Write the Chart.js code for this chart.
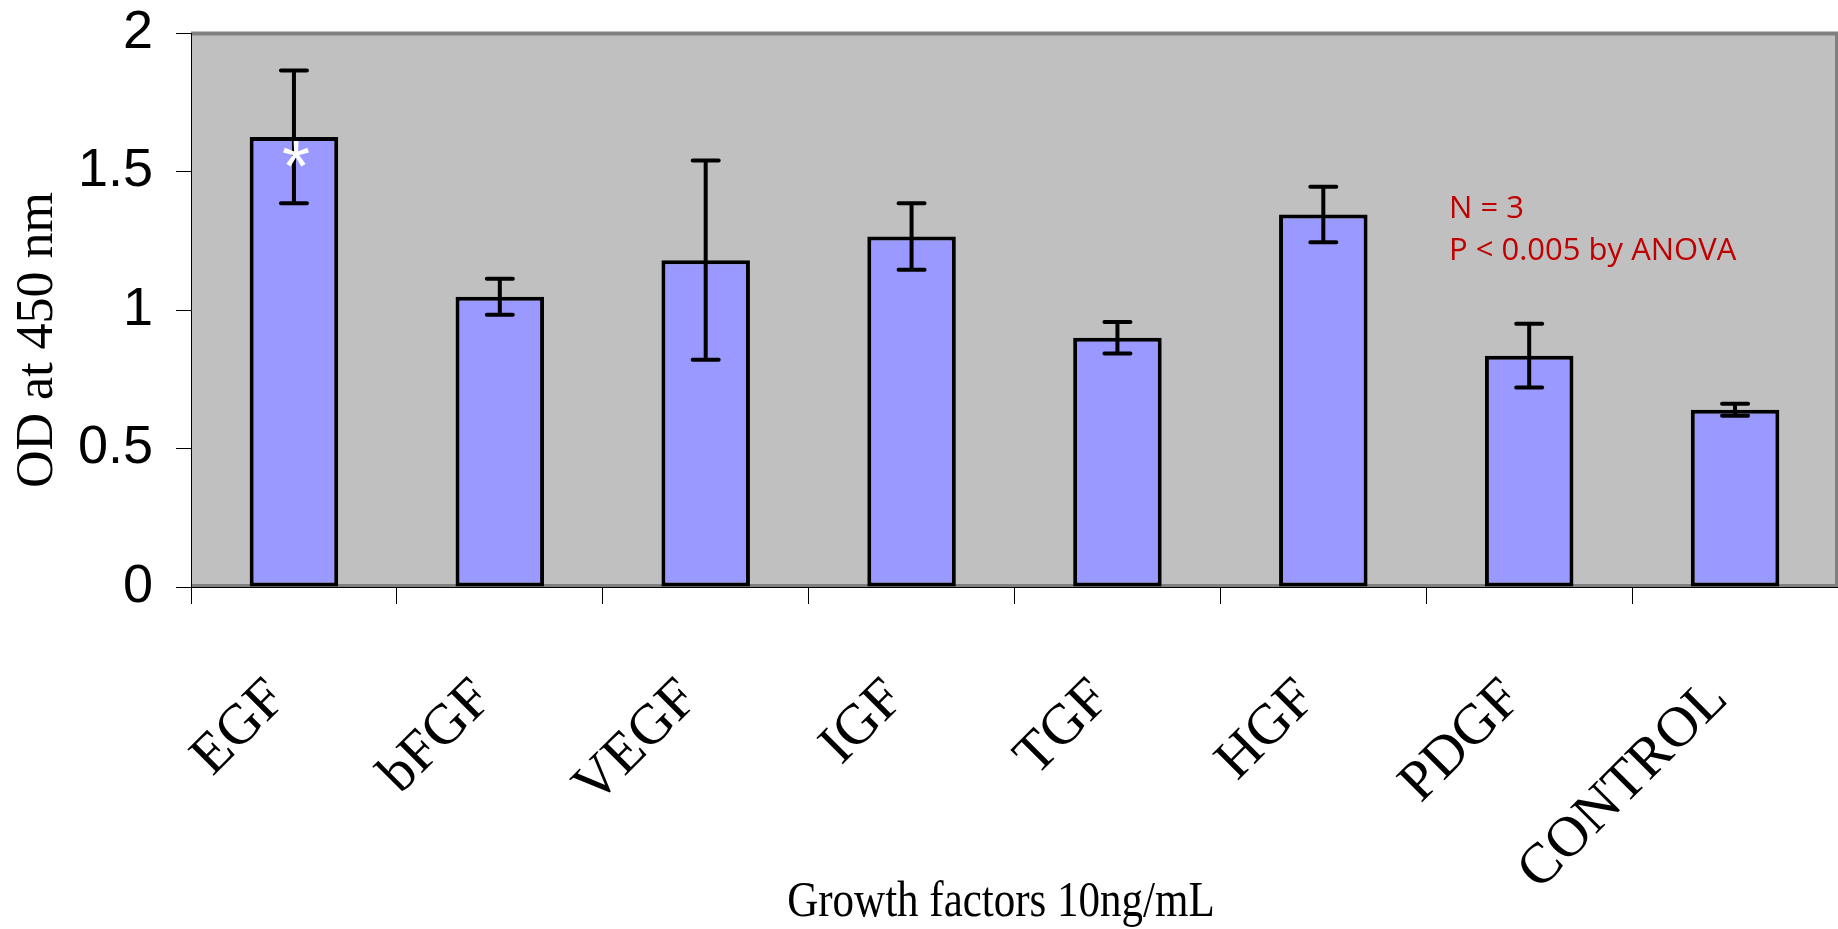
<!DOCTYPE html>
<html>
<head>
<meta charset="utf-8">
<script src="https://cdn.jsdelivr.net/npm/chart.js@4.4.1/dist/chart.umd.min.js"></script>
<style>
  html, body { margin: 0; padding: 0; background: #fff; }
  #wrap { width: 1838px; height: 929px; position: relative; }
</style>
</head>
<body>
<div id="wrap"><canvas id="odChart"></canvas></div>
<script>
// growth factor assay, OD at 450 nm (mean and error)
const factors = ["EGF", "bFGF", "VEGF", "IGF", "TGF", "HGF", "PDGF", "CONTROL"];
const odMeans = [1.625, 1.048, 1.18, 1.265, 0.90, 1.345, 0.835, 0.64];
const odErrors = [0.24, 0.065, 0.36, 0.12, 0.057, 0.10, 0.115, 0.022];
const yTicks = [0, 0.5, 1, 1.5, 2];
const noteLines = ["N = 3", "P < 0.005 by ANOVA"];

// grey plot area with its darker frame
const plotFrame = {
    id: "plotFrame",
    beforeDraw(chart) {
        const { ctx, chartArea: a } = chart;
        ctx.save();
        ctx.fillStyle = "#c0c0c0";
        ctx.fillRect(a.left, a.top, a.right - a.left, a.bottom - a.top);
        ctx.strokeStyle = "#808080";
        ctx.lineWidth = 4;
        ctx.beginPath();
        ctx.moveTo(a.left, a.top + 0.5);
        ctx.lineTo(a.right, a.top + 0.5);
        ctx.stroke();
        ctx.lineWidth = 3;
        ctx.beginPath();
        ctx.moveTo(a.right - 1.5, a.top);
        ctx.lineTo(a.right - 1.5, a.bottom);
        ctx.stroke();
        ctx.beginPath();
        ctx.moveTo(a.left, a.bottom - 1.5);
        ctx.lineTo(a.right, a.bottom - 1.5);
        ctx.stroke();
        ctx.restore();
    }
};

// error bars, significance star, notes and axis titles
const extras = {
    id: "extras",
    afterDatasetsDraw(chart) {
        const { ctx, chartArea: a } = chart;
        const y = chart.scales.y;
        const bars = chart.getDatasetMeta(0).data;
        ctx.save();
        ctx.strokeStyle = "#000";
        ctx.lineWidth = 4;
        ctx.lineCap = "round";
        bars.forEach((bar, i) => {
            const hi = y.getPixelForValue(odMeans[i] + odErrors[i]);
            const lo = y.getPixelForValue(odMeans[i] - odErrors[i]);
            ctx.beginPath();
            ctx.moveTo(bar.x, hi);
            ctx.lineTo(bar.x, lo);
            ctx.moveTo(bar.x - 13, hi);
            ctx.lineTo(bar.x + 13, hi);
            ctx.moveTo(bar.x - 13, lo);
            ctx.lineTo(bar.x + 13, lo);
            ctx.stroke();
        });

        // star on EGF
        ctx.fillStyle = "#fff";
        ctx.font = "72px 'Liberation Sans'";
        ctx.textAlign = "center";
        ctx.textBaseline = "alphabetic";
        ctx.fillText("*", bars[0].x + 2, y.getPixelForValue(odMeans[0]) + 54);

        ctx.fillStyle = "#c00000";
        ctx.font = "31px 'Open Sans'";
        ctx.textAlign = "left";
        ctx.fillText(noteLines[0], a.left + 1258, 218, 92);
        ctx.fillText(noteLines[1], a.left + 1258, 260, 298);

        // y title
        ctx.fillStyle = "#000";
        ctx.font = "52px 'Liberation Serif'";
        ctx.save();
        ctx.translate(52, 340);
        ctx.rotate(-Math.PI / 2);
        ctx.textAlign = "center";
        ctx.fillText("OD at 450 nm", 0, 0);
        ctx.restore();

        // x title, narrow type
        ctx.font = "50px 'Liberation Serif'";
        ctx.save();
        ctx.translate(1001, 916);
        ctx.scale(0.86, 1);
        ctx.textAlign = "center";
        ctx.fillText("Growth factors 10ng/mL", 0, 0);
        ctx.restore();
        ctx.restore();
    }
};

const ctx = document.getElementById("odChart").getContext("2d");
const odChart = new Chart(ctx, {
    type: "bar",
    data: {
        labels: factors,
        datasets: [{
            data: odMeans,
            backgroundColor: "#9999ff",
            borderColor: "#000",
            borderWidth: 4,
            borderSkipped: false,
            barPercentage: 0.43,
            categoryPercentage: 1
        }]
    },
    options: {
        responsive: true,
        maintainAspectRatio: false,
        animation: false,
        layout: { padding: { top: 33, right: 0, left: 0, bottom: 0 } },
        plugins: {
            legend: { display: false },
            tooltip: { enabled: false }
        },
        scales: {
            x: {
                afterFit: (s) => {
                    s.height = 342;
                    s.paddingLeft = 0;
                    s.paddingRight = 0;
                },
                grid: {
                    offset: true,
                    drawOnChartArea: false,
                    drawTicks: true,
                    tickLength: 17,
                    tickColor: "#000",
                    lineWidth: 1
                },
                border: { color: "#000", width: 1 },
                ticks: {
                    autoSkip: false,
                    maxRotation: 45,
                    minRotation: 45,
                    padding: 62,
                    labelOffset: -16,
                    color: "#000",
                    font: { family: "'Liberation Serif'", size: 57 }
                }
            },
            y: {
                min: 0,
                max: 2,
                afterFit: (s) => {
                    s.width = 191;
                    s.paddingTop = 0;
                    s.paddingBottom = 0;
                },
                afterBuildTicks: (s) => { s.ticks = yTicks.map(v => ({ value: v })); },
                grid: {
                    drawOnChartArea: false,
                    drawTicks: true,
                    tickLength: 15,
                    tickColor: "#000",
                    lineWidth: 1
                },
                border: { color: "#000", width: 1 },
                ticks: {
                    padding: 23,
                    color: "#000",
                    font: { family: "'Liberation Sans'", size: 54 },
                    callback: (v) => String(v)
                }
            }
        }
    },
    plugins: [plotFrame, extras]
});
</script>
</body>
</html>
